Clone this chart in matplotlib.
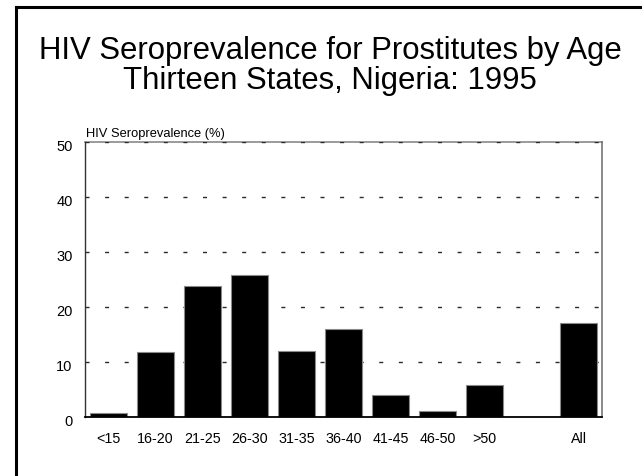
import matplotlib
matplotlib.use("Agg")
import matplotlib.pyplot as plt
from matplotlib.lines import Line2D
from matplotlib.transforms import ScaledTranslation

plt.rcParams['font.family'] = ['Liberation Sans', 'DejaVu Sans']
plt.rcParams['lines.scale_dashes'] = False

categories = ["<15", "16-20", "21-25", "26-30", "31-35", "36-40", "41-45", "46-50", ">50", "", "All"]
prevalence = [0.7, 11.8, 23.8, 25.8, 11.9, 15.9, 3.9, 1.0, 5.7, None, 17.1]
y_ticks = [0, 10, 20, 30, 40, 50]

fig = plt.figure(figsize=(6.42, 4.76), dpi=100)
ax = fig.add_axes([0.1324, 0.1246, 0.8053, 0.5771])

xs = [i for i, v in enumerate(prevalence) if v is not None]
vals = [v for v in prevalence if v is not None]
ax.bar(xs, vals, width=0.79, color='black', edgecolor='#8a8a8a', linewidth=0.8, zorder=3)

ax.set_xlim(-0.5, len(categories) - 0.5)
ax.set_ylim(0, 50)
ax.set_xticks(range(len(categories)))
ax.set_xticklabels(categories, fontsize=10.3)
ax.set_yticks(y_ticks)
ax.set_yticklabels([str(t) for t in y_ticks], fontsize=10.5)
ax.tick_params(axis='x', length=0, pad=11)
ax.tick_params(axis='y', length=0, pad=9)
# y labels sit slightly below their reference lines
for lbl in ax.get_yticklabels():
    lbl.set_transform(lbl.get_transform() + ScaledTranslation(0, -3.5 / 100, fig.dpi_scale_trans))

# dashed reference lines
for t in y_ticks[1:]:
    ax.axhline(t, color='#2a2a2a', linewidth=1.0, linestyle=(0, (2.9, 11.2)), zorder=2)

ax.spines['top'].set_color('#8a8a8a')
ax.spines['top'].set_linewidth(1.2)
ax.spines['top'].set_zorder(1)
ax.spines['right'].set_color('#6a6a6a')
ax.spines['right'].set_linewidth(1.1)
ax.spines['left'].set_color('#333333')
ax.spines['left'].set_linewidth(1.0)
ax.spines['bottom'].set_color('black')
ax.spines['bottom'].set_linewidth(1.3)
ax.spines['bottom'].set_zorder(4)

ax.text(0.0, 1.0, "HIV Seroprevalence (%)", transform=ax.transAxes
        + ScaledTranslation(0.01, 0.053, fig.dpi_scale_trans),
        fontsize=9.3, ha='left', va='baseline')

fig.text(0.514, 1 - 58.7 / 476, "HIV Seroprevalence for Prostitutes by Age",
         ha='center', va='baseline', fontsize=22.4)
fig.text(0.514, 1 - 89.3 / 476, "Thirteen States, Nigeria: 1995",
         ha='center', va='baseline', fontsize=22.4)

# outer frame (left and top edges)
fig.add_artist(Line2D([15.5 / 642, 15.5 / 642], [0.0, 1 - 6.5 / 476], transform=fig.transFigure,
                      color='black', linewidth=2.2, solid_capstyle='projecting'))
fig.add_artist(Line2D([15.5 / 642, 1.0], [1 - 6.5 / 476, 1 - 6.5 / 476], transform=fig.transFigure,
                      color='black', linewidth=2.2, solid_capstyle='projecting'))

fig.savefig("out.png", dpi=100)
